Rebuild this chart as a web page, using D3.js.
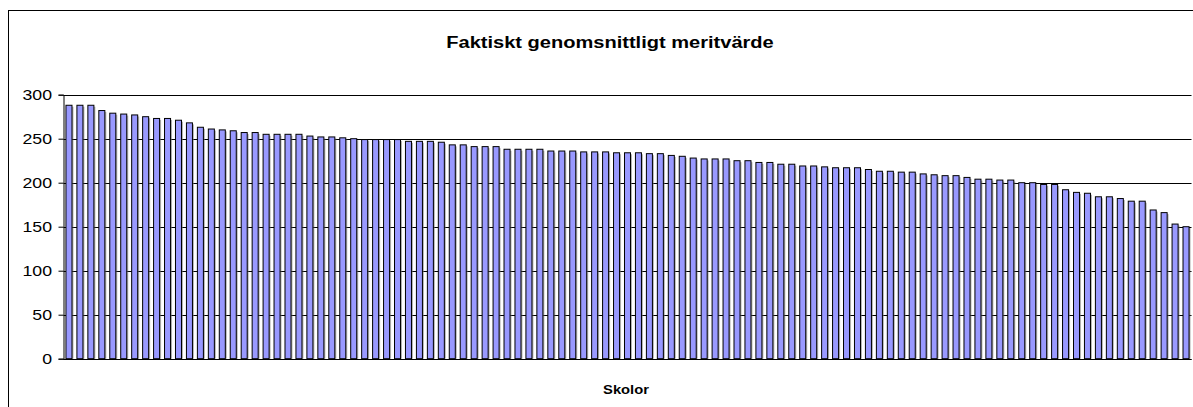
<!DOCTYPE html>
<html>
<head>
<meta charset="utf-8">
<script src="https://cdn.jsdelivr.net/npm/d3@7"></script>
<style>
  body { margin: 0; background: #fff; }
  svg { display: block; font-family: "Liberation Sans", Arial, sans-serif; }
</style>
</head>
<body>
<div id="chart"></div>
<script>
// Faktiskt genomsnittligt meritvärde, one bar per school (sorted)

const title = 'Faktiskt genomsnittligt meritvärde';
const xTitle = 'Skolor';
const yTicks = [0, 50, 100, 150, 200, 250, 300];

const values = [
  288, 288, 288, 282, 279, 278, 277, 275, 273, 273,
  271, 268, 263, 261, 260, 259, 257, 257, 255, 255,
  255, 255, 253, 252, 252, 251, 250, 249, 249, 249,
  249, 247, 247, 247, 246, 243, 243, 241, 241, 241,
  238, 238, 238, 238, 236, 236, 236, 235, 235, 235,
  234, 234, 234, 233, 233, 231, 230, 228, 227, 227,
  227, 225, 225, 223, 223, 221, 221, 219, 219, 218,
  217, 217, 217, 215, 213, 213, 212, 212, 210, 209,
  208, 208, 206, 204, 204, 203, 203, 200, 200, 198,
  198, 192, 189, 188, 184, 184, 182, 179, 179, 169,
  166, 153, 150
];
const schools = values.map((v, i) => 'Skola ' + (i + 1));

const width = 1193, height = 407;
const margin = { left: 63.5, right: 1.5, top: 94.7, bottom: 48.3 };
const stretch = 1.18; // text in the picture is a bit wider than tall

const svg = d3.select('#chart').append('svg')
  .attr('width', width)
  .attr('height', height);

// chart area border
svg.append('rect')
  .attr('x', 8.5).attr('y', 10.5)
  .attr('width', width + 20).attr('height', height + 20)
  .attr('fill', '#fff')
  .attr('stroke', '#000')
  .attr('stroke-width', 1);

const x = d3.scaleBand()
  .domain(schools)
  .range([margin.left, width - margin.right])
  .paddingInner(0.45)
  .paddingOuter(0.225);

const y = d3.scaleLinear()
  .domain([0, 300])
  .range([height - margin.bottom, margin.top]);

// gridlines
svg.append('g')
  .selectAll('line')
  .data(yTicks)
  .enter().append('line')
  .attr('x1', margin.left)
  .attr('x2', width - margin.right)
  .attr('y1', d => Math.round(y(d)) + 0.5)
  .attr('y2', d => Math.round(y(d)) + 0.5)
  .attr('stroke', '#000')
  .attr('stroke-width', 1);

// bars: shadow first, then the bar with outline
const bars = svg.append('g');

bars.selectAll('.shadow')
  .data(values)
  .enter().append('rect')
  .attr('class', 'shadow')
  .attr('x', (d, i) => x(schools[i]) + 1.5)
  .attr('y', d => y(d) + 1.5)
  .attr('width', x.bandwidth())
  .attr('height', d => y(0) - y(d) - 1.5)
  .attr('fill', '#777')
  .attr('opacity', 0.55);

bars.selectAll('.bar')
  .data(values)
  .enter().append('rect')
  .attr('class', 'bar')
  .attr('x', (d, i) => x(schools[i]))
  .attr('y', d => y(d))
  .attr('width', x.bandwidth())
  .attr('height', d => y(0) - y(d))
  .attr('fill', '#9999FF')
  .attr('stroke', '#000')
  .attr('stroke-width', 1);

// y axis
const yAxis = svg.append('g')
  .attr('transform', 'translate(' + margin.left + ',0)')
  .call(d3.axisLeft(y).tickValues(yTicks).tickSize(5).tickPadding(6));

yAxis.select('.domain').attr('stroke', '#000');
yAxis.selectAll('.tick line').attr('stroke', '#000');
yAxis.selectAll('.tick text')
  .attr('x', -11.5 / stretch)
  .attr('transform', 'scale(' + stretch + ',1)')
  .attr('font-size', 15)
  .attr('font-family', '"Liberation Sans", Arial, sans-serif')
  .attr('fill', '#000');

// bottom axis line
svg.append('line')
  .attr('x1', margin.left).attr('x2', width - margin.right)
  .attr('y1', Math.round(y(0)) + 0.5).attr('y2', Math.round(y(0)) + 0.5)
  .attr('stroke', '#000');

// titles
svg.append('text')
  .attr('transform', 'translate(610,48) scale(' + stretch + ',1)')
  .attr('text-anchor', 'middle')
  .attr('font-size', 17)
  .attr('font-weight', 'bold')
  .text(title);

svg.append('text')
  .attr('transform', 'translate(626,394) scale(' + stretch + ',1)')
  .attr('text-anchor', 'middle')
  .attr('font-size', 12.5)
  .attr('font-weight', 'bold')
  .text(xTitle);
</script>
</body>
</html>
